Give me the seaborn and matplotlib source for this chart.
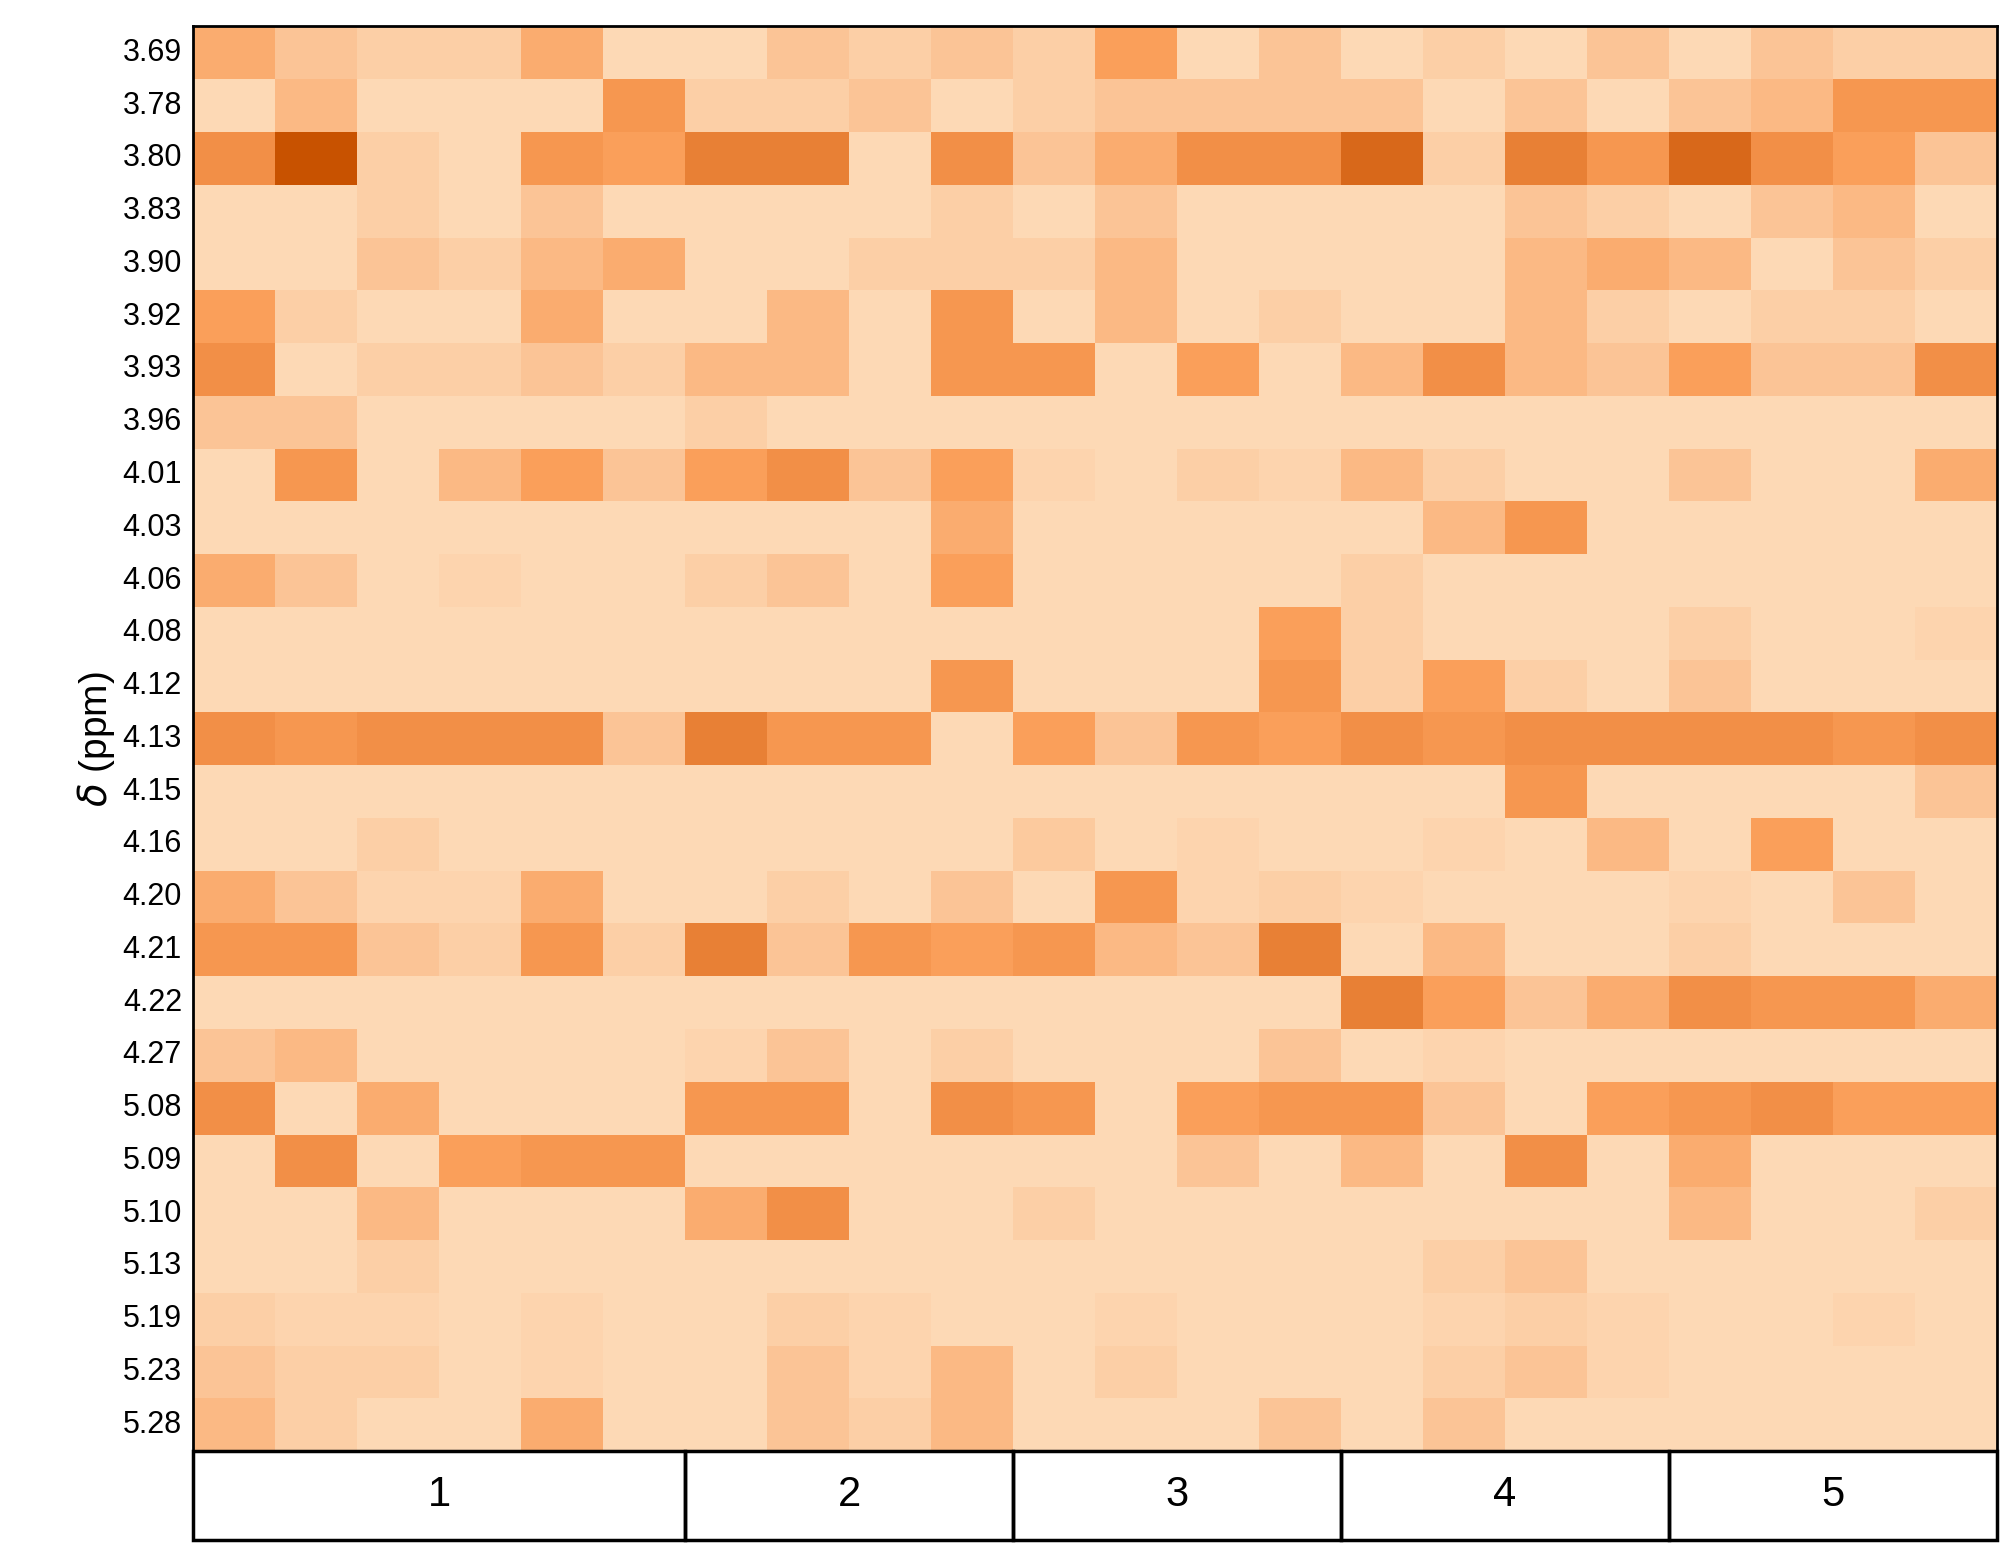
import numpy as np
import pandas as pd
import matplotlib
matplotlib.use("Agg")
import matplotlib.pyplot as plt
import seaborn as sns
from matplotlib.colors import LinearSegmentedColormap

shifts = ["3.69", "3.78", "3.80", "3.83", "3.90", "3.92", "3.93", "3.96", "4.01", "4.03",
          "4.06", "4.08", "4.12", "4.13", "4.15", "4.16", "4.20", "4.21", "4.22", "4.27",
          "5.08", "5.09", "5.10", "5.13", "5.19", "5.23", "5.28"]
groups = ["1", "2", "3", "4", "5"]
group_sizes = [6, 4, 4, 4, 4]

# relative intensity levels 0..10
levels = [
    [4, 2, 1, 1, 4, 0, 0, 2, 1, 2, 1, 5, 0, 2, 0, 1, 0, 2, 0, 2, 1, 1],
    [0, 3, 0, 0, 0, 6, 1, 1, 2, 0, 1, 2, 2, 2, 2, 0, 2, 0, 2, 3, 6, 6],
    [7, 10, 1, 0, 6, 5, 8, 8, 0, 7, 2, 4, 7, 7, 9, 1, 8, 6, 9, 7, 5, 2],
    [0, 0, 1, 0, 2, 0, 0, 0, 0, 1, 0, 2, 0, 0, 0, 0, 2, 1, 0, 2, 3, 0],
    [0, 0, 2, 1, 3, 4, 0, 0, 1, 1, 1, 3, 0, 0, 0, 0, 3, 4, 3, 0, 2, 1],
    [5, 1, 0, 0, 4, 0, 0, 3, 0, 6, 0, 3, 0, 1, 0, 0, 3, 1, 0, 1, 1, 0],
    [7, 0, 1, 1, 2, 1, 3, 3, 0, 6, 6, 0, 5, 0, 3, 7, 3, 2, 5, 2, 2, 7],
    [2, 2, 0, 0, 0, 0, 1, 0, 0, 0, 0, 0, 0, 0, 0, 0, 0, 0, 0, 0, 0, 0],
    [0, 6, 0, 3, 5, 2, 5, 7, 2, 5, 0.5, 0, 1, 0.5, 3, 1, 0, 0, 2, 0, 0, 4],
    [0, 0, 0, 0, 0, 0, 0, 0, 0, 4, 0, 0, 0, 0, 0, 3, 6, 0, 0, 0, 0, 0],
    [4, 2, 0, 0.5, 0, 0, 1, 2, 0, 5, 0, 0, 0, 0, 1, 0, 0, 0, 0, 0, 0, 0],
    [0, 0, 0, 0, 0, 0, 0, 0, 0, 0, 0, 0, 0, 5, 1, 0, 0, 0, 1, 0, 0, 0.5],
    [0, 0, 0, 0, 0, 0, 0, 0, 0, 6, 0, 0, 0, 6, 1, 5, 1, 0, 2, 0, 0, 0],
    [7, 6, 7, 7, 7, 2, 8, 6, 6, 0, 5, 2, 6, 5, 7, 6, 7, 7, 7, 7, 6, 7],
    [0, 0, 0, 0, 0, 0, 0, 0, 0, 0, 0, 0, 0, 0, 0, 0, 6, 0, 0, 0, 0, 2],
    [0, 0, 1, 0, 0, 0, 0, 0, 0, 0, 1.5, 0, 0.5, 0, 0, 0.5, 0, 3, 0, 5, 0, 0],
    [4, 2, 0.5, 0.5, 4, 0, 0, 1, 0, 2, 0, 6, 0.5, 1, 0.5, 0, 0, 0, 0.5, 0, 2, 0],
    [6, 6, 2, 1, 6, 1, 8, 2, 6, 5, 6, 3, 2, 8, 0, 3, 0, 0, 1, 0, 0, 0],
    [0, 0, 0, 0, 0, 0, 0, 0, 0, 0, 0, 0, 0, 0, 8, 5, 2, 4, 7, 6, 6, 4],
    [2, 3, 0, 0, 0, 0, 0.5, 2, 0, 1, 0, 0, 0, 2, 0, 0.5, 0, 0, 0, 0, 0, 0],
    [7, 0, 4, 0, 0, 0, 6, 6, 0, 7, 6, 0, 5, 6, 6, 2, 0, 5, 6, 7, 5, 5],
    [0, 7, 0, 5, 6, 6, 0, 0, 0, 0, 0, 0, 2, 0, 3, 0, 7, 0, 4, 0, 0, 0],
    [0, 0, 3, 0, 0, 0, 4, 7, 0, 0, 1, 0, 0, 0, 0, 0, 0, 0, 3, 0, 0, 1],
    [0, 0, 1, 0, 0, 0, 0, 0, 0, 0, 0, 0, 0, 0, 0, 1, 2, 0, 0, 0, 0, 0],
    [1, 0.5, 0.5, 0, 0.5, 0, 0, 1, 0.5, 0, 0, 0.5, 0, 0, 0, 0.5, 1, 0.5, 0, 0, 0.5, 0],
    [2, 1, 1, 0, 0.5, 0, 0, 2, 0.5, 3, 0, 1, 0, 0, 0, 1, 2, 0.5, 0, 0, 0, 0],
    [3, 1, 0, 0, 4, 0, 0, 2, 1, 3, 0, 0, 0, 2, 0, 2, 0, 0, 0, 0, 0, 0],
]

df = pd.DataFrame(levels, index=shifts)

cmap = LinearSegmentedColormap.from_list(
    "peach", ["#fdd9b5", "#fbbf8e", "#fa9f5a", "#f08b42", "#c85200"])

plt.rcParams['font.family'] = ['Liberation Sans', 'DejaVu Sans']

fig = plt.figure(figsize=(20.11, 15.57), dpi=100)
ax = fig.add_axes([0.096, 0.068, 0.897, 0.915])
sns.heatmap(df, ax=ax, cmap=cmap, vmin=0, vmax=10, cbar=False,
            xticklabels=False, yticklabels=shifts)
for s in ax.spines.values():
    s.set_visible(True)
    s.set_linewidth(2)
    s.set_color("black")
ax.tick_params(axis="y", length=0, labelsize=22, pad=8, labelrotation=0)
ax.set_ylabel(r"$\delta$ (ppm)", fontsize=28)

# group strip
gax = fig.add_axes([0.096, 0.011, 0.897, 0.057])
gax.set_xlim(0, sum(group_sizes))
gax.set_ylim(0, 1)
start = 0
for g, n in zip(groups, group_sizes):
    gax.add_patch(plt.Rectangle((start, 0), n, 1, fill=False, lw=2.5, ec="black", clip_on=False))
    gax.text(start + n / 2, 0.5, g, ha="center", va="center", fontsize=30)
    start += n
gax.axis("off")

fig.savefig("out.png", dpi=100)
